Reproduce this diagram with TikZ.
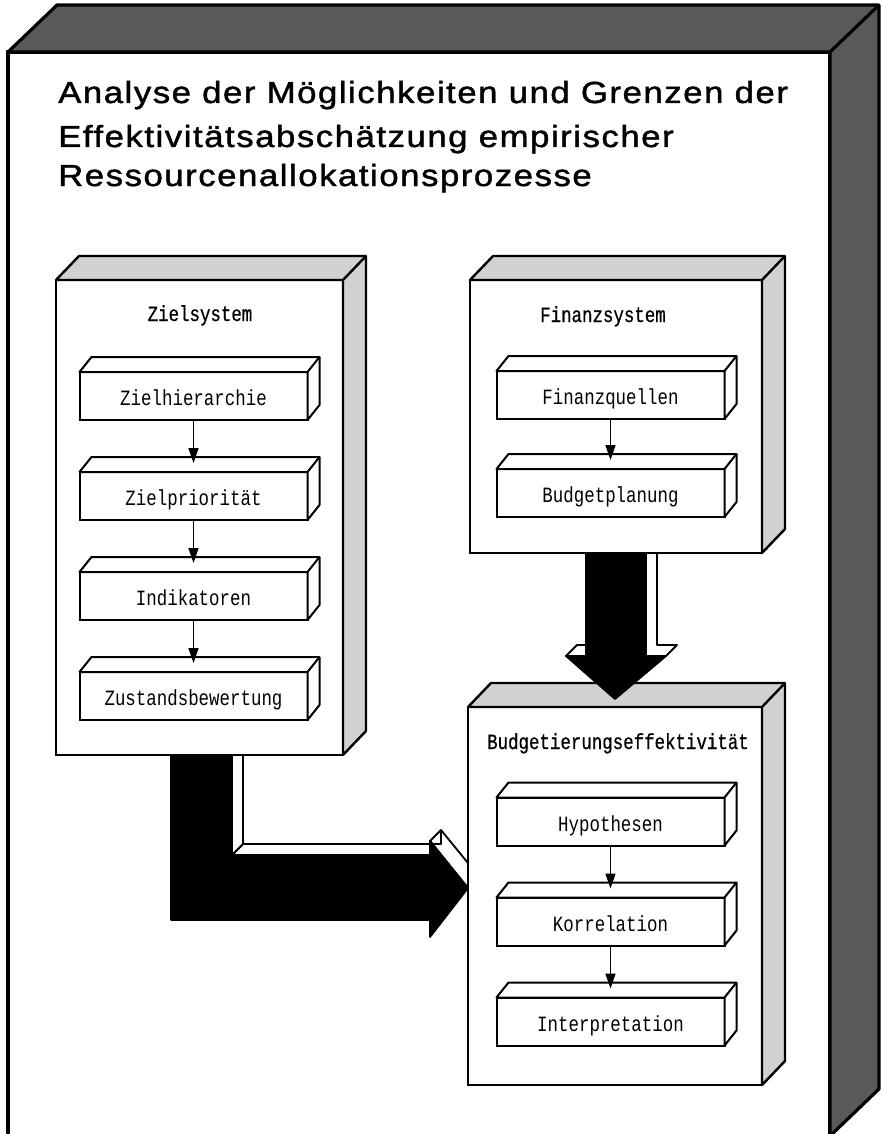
\documentclass[tikz,border=0pt]{standalone}
\usepackage{fontspec}
\setmainfont{Liberation Sans}
\newfontfamily\titlefont[FakeStretch=1.14,FakeBold=1.4,LetterSpace=5]{Liberation Sans}
\newfontfamily\typefont[FakeStretch=0.8]{Liberation Mono}
\newfontfamily\headtype[FakeStretch=0.8,FakeBold=0.6]{Liberation Mono}
\usetikzlibrary{positioning, arrows.meta, calc}

% side and top faces of a box node: node, dx, dy, fill, line width
\newcommand{\solid}[5]{%
  \filldraw[fill=#4, line width=#5, line join=round]
    (#1.north west) -- ++(#2,-#3) -- ($(#1.north east)+(#2,-#3)$)
    -- ($(#1.south east)+(#2,-#3)$) -- (#1.south east) -- (#1.north east) -- cycle;
  \draw[line width=#5] (#1.north east) -- ++(#2,-#3);}

\tikzset{
  panel/.style={draw, fill=white, line width=2.4pt, outer sep=0pt, inner sep=0pt},
  block/.style={draw, fill=white, line width=2pt, outer sep=0pt, inner sep=0pt,
    minimum width=228pt, minimum height=48pt, text height=19pt, text depth=0pt,
    font=\typefont\fontsize{21.8}{24}\selectfont},
  heading/.style={anchor=base, inner sep=0pt, font=\headtype\fontsize{21.8}{24}\selectfont},
  titleline/.style={anchor=base west, inner sep=0pt, font=\titlefont\fontsize{30.5}{36}\selectfont},
  flow/.style={line width=1.6pt, -{Triangle[width=10pt,length=15pt]}},
  bigarrow/.style={fill=black, draw=black, line width=1.8pt, line join=round},
  rim/.style={fill=white, draw=black, line width=1.8pt, line join=round},
}

\begin{document}
\begin{tikzpicture}[x=1pt, y=-1pt]
  \useasboundingbox[fill=white] (0,0) rectangle (882,1134);

  % outer frame
  \node[panel, line width=3.2pt, minimum width=822pt, minimum height=1084pt] (frame) at (419,594) {};
  \solid{frame}{49}{47}{black!65}{3.2pt}

  \node[titleline] (title1) at (58,103) {Analyse der Möglichkeiten und Grenzen der};
  \node[titleline] (title2) at (58,147) {Effektivitätsabschätzung empirischer};
  \node[titleline] (title3) at (58,186) {Ressourcenallokationsprozesse};

  % Zielsystem
  \node[panel, minimum width=287pt, minimum height=475pt] (ziel) at (199.5,517.5) {};
  \solid{ziel}{23}{24}{black!18}{2.4pt}
  \node[heading] (zieltitle) at (200,321) {Zielsystem};
  \node[block] (zh) at (193.5,396) {Zielhierarchie};
  \node[block, below=52pt of zh] (zp) {Zielpriorität};
  \node[block, below=52pt of zp] (ind) {Indikatoren};
  \node[block, below=52pt of ind] (zb) {Zustandsbewertung};
  \foreach \b in {zh, zp, ind, zb} {\solid{\b}{12}{15}{white}{2pt}}

  % Finanzsystem
  \node[panel, minimum width=292pt, minimum height=273pt] (finanz) at (616,416.5) {};
  \solid{finanz}{23}{24}{black!18}{2.4pt}
  \node[heading] (finanztitle) at (603,322) {Finanzsystem};
  \node[block] (fq) at (610.5,395) {Finanzquellen};
  \node[block, below=50pt of fq] (bp) {Budgetplanung};
  \foreach \b in {fq, bp} {\solid{\b}{12}{15}{white}{2pt}}

  % Budgetierungseffektivitaet
  \node[panel, minimum width=294pt, minimum height=378pt] (budget) at (615,896) {};
  \solid{budget}{23}{24}{black!18}{2.4pt}
  \node[heading] (budgettitle) at (618,749) {Budgetierungseffektivität};
  \node[block] (hy) at (610.5,821.5) {Hypothesen};
  \node[block, below=52pt of hy] (ko) {Korrelation};
  \node[block, below=52pt of ko] (ip) {Interpretation};
  \foreach \b in {hy, ko, ip} {\solid{\b}{12}{15}{white}{2pt}}

  % Ziel -> Budget
  \fill[rim] (232,855) -- (430,855) -- (430,841) -- ($(budget.west)+(0,-8)$) -- (468,863)
    -- (441,830) -- (441,844) -- (243,844) -- cycle;
  \fill[rim] ($(ziel.south west)+(176,0)$) -- (232,855) -- (243,844) -- ($(ziel.south west)+(187,0)$) -- cycle;
  \draw[line width=1.8pt] (430,841) -- (441,830);
  \draw[bigarrow] ($(ziel.south west)+(115,0)$) -- (171,920) -- (430,920) -- (430,937)
    -- ($(budget.west)+(0,-8)$) -- (430,841) -- (430,855) -- (232,855)
    -- ($(ziel.south west)+(176,0)$) -- cycle;

  % Finanz -> Budget
  \fill[rim] ($(finanz.south)+(30,0)$) -- (646,656) -- (666,656) -- (677,645) -- (657,645)
    -- ($(finanz.south)+(41,0)$) -- cycle;
  \fill[rim] (566,656) -- (586,656) -- (597,645) -- (577,645) -- cycle;
  \draw[bigarrow] ($(finanz.south)+(-30,0)$) -- ++(0,103) -- ++(-20,0)
    -- ($(budget.north)+(0,-8)$) -- ($(finanz.south)+(50,103)$) -- ++(-20,0)
    -- ($(finanz.south)+(30,0)$) -- cycle;

  % inner flows
  \draw[flow] (zh.south) -- ([yshift=9pt]zp.north);
  \draw[flow] (zp.south) -- ([yshift=9pt]ind.north);
  \draw[flow] (ind.south) -- ([yshift=9pt]zb.north);
  \draw[flow] (fq.south) -- ([yshift=9pt]bp.north);
  \draw[flow] (hy.south) -- ([yshift=9pt]ko.north);
  \draw[flow] (ko.south) -- ([yshift=9pt]ip.north);
\end{tikzpicture}
\end{document}
